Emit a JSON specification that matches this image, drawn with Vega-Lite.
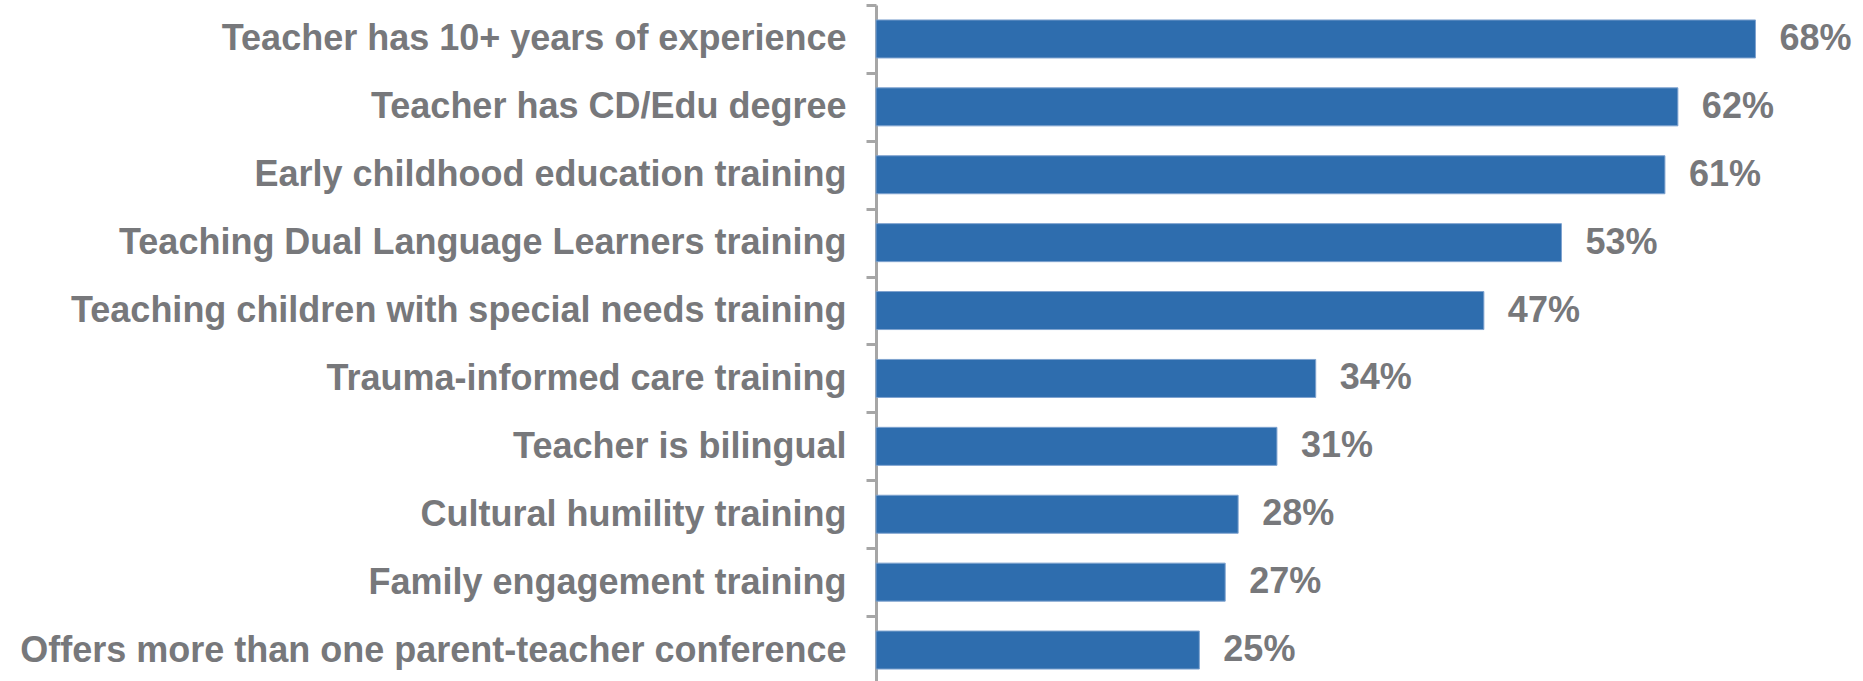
{
  "$schema": "https://vega.github.io/schema/vega-lite/v6.json",
  "width": 970,
  "height": 679,
  "autosize": "none",
  "padding": {"left": 876, "top": 5, "right": 17, "bottom": 0},
  "background": "white",
  "config": {"view": {"stroke": null}},
  "data": {
    "values": [
      {"item": "Teacher has 10+ years of experience", "pct": 0.68},
      {"item": "Teacher has CD/Edu degree", "pct": 0.62},
      {"item": "Early childhood education training", "pct": 0.61},
      {"item": "Teaching Dual Language Learners training", "pct": 0.53},
      {"item": "Teaching children with special needs training", "pct": 0.47},
      {"item": "Trauma-informed care training", "pct": 0.34},
      {"item": "Teacher is bilingual", "pct": 0.31},
      {"item": "Cultural humility training", "pct": 0.28},
      {"item": "Family engagement training", "pct": 0.27},
      {"item": "Offers more than one parent-teacher conference", "pct": 0.25}
    ]
  },
  "encoding": {
    "y": {
      "field": "item",
      "type": "nominal",
      "sort": null,
      "scale": {"paddingInner": 0.44, "paddingOuter": 0.22},
      "axis": {
        "title": null,
        "orient": "left",
        "domainColor": "#a6a6a6",
        "domainWidth": 3,
        "tickColor": "#a6a6a6",
        "tickWidth": 3,
        "tickSize": 10,
        "tickOffset": -34,
        "labelOffset": 34,
        "labelPadding": 20,
        "labelFont": "Liberation Sans",
        "labelFontWeight": "bold",
        "labelFontSize": 36,
        "labelColor": "#77787b",
        "labelLimit": 1000
      }
    },
    "x": {
      "field": "pct",
      "type": "quantitative",
      "scale": {"domain": [0, 0.75], "nice": false},
      "axis": null
    }
  },
  "layer": [
    {
      "mark": {"type": "bar", "color": "#2e6dae", "stroke": "#7fa3cf", "strokeWidth": 1}
    },
    {
      "mark": {
        "type": "text",
        "align": "left",
        "baseline": "middle",
        "dx": 24,
        "font": "Liberation Sans",
        "fontWeight": "bold",
        "fontSize": 36,
        "color": "#77787b"
      },
      "encoding": {
        "text": {"field": "pct", "type": "quantitative", "format": ".0%"}
      }
    }
  ]
}
